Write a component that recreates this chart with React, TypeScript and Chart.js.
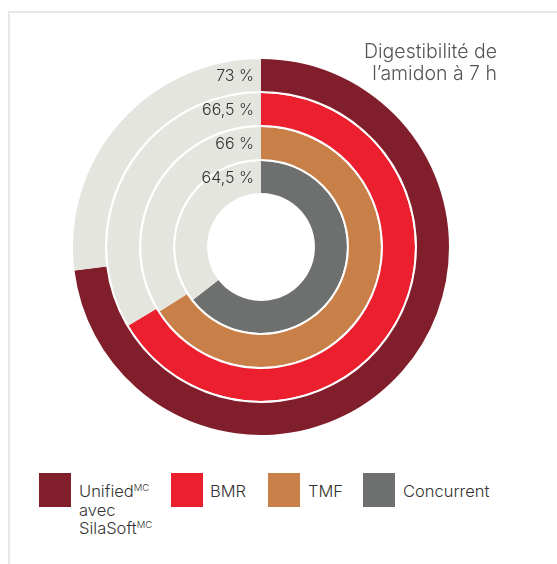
import React, { useEffect, useRef } from "react";
import { Chart, registerables } from "chart.js";

Chart.register(...registerables);

const seriesNames = ["Unified avec SilaSoft", "BMR", "TMF", "Concurrent"];
const seriesValues = [73, 66.5, 66, 64.5];
const valueLabels = ["73 %", "66,5 %", "66 %", "64,5 %"];
const seriesColors = ["#801f2b", "#ec1f2f", "#c88048", "#6d706f"];
const restColor = "#e5e5e0";
const titleLines = ["Digestibilité de", "l’amidon à 7 h"];

const FONT = "Inter, Lato, 'Open Sans', sans-serif";

export default function App() {
  const canvasRef = useRef<HTMLCanvasElement | null>(null);

  useEffect(() => {
    const canvas = canvasRef.current;
    if (!canvas) return;
    const datasets: any[] = [];
    const ringIdx: number[] = [];
    seriesValues.forEach((v, i) => {
      if (i > 0) {
        datasets.push({
          data: [100],
          backgroundColor: ["#ffffff"],
          weight: 0.0625,
          borderWidth: 0,
        });
      }
      ringIdx.push(datasets.length);
      datasets.push({
        label: seriesNames[i],
        data: [v, 100 - v],
        backgroundColor: [seriesColors[i], restColor],
        weight: 1,
        borderWidth: 0,
      });
    });

    const labelPlugin = {
      id: "ringLabels",
      afterDatasetsDraw(chart: any) {
        const ctx = chart.ctx;
        ctx.save();
        ctx.font = `300 16px ${FONT}`;
        ctx.fillStyle = "#333333";
        ctx.textAlign = "right";
        ctx.textBaseline = "middle";
        ringIdx.forEach((di, i) => {
          const el = chart.getDatasetMeta(di).data[0];
          if (!el) return;
          const r = (el.innerRadius + el.outerRadius) / 2;
          ctx.fillText(valueLabels[i], el.x - 7, el.y - r + 1.5);
        });
        ctx.restore();
      },
    };

    const chart = new Chart(canvas, {
      type: "doughnut",
      data: { labels: ["valeur", "reste"], datasets },
      options: {
        animation: false,
        responsive: false,
        maintainAspectRatio: false,
        cutout: "28.7%",
        layout: { padding: 0 },
        elements: { arc: { borderWidth: 0, hoverOffset: 0, offset: 0, hoverBorderWidth: 0 } as any },
        plugins: {
          legend: { display: false },
          tooltip: { enabled: false },
          title: { display: false },
        },
        events: [],
      },
      plugins: [labelPlugin],
    });
    return () => chart.destroy();
  }, []);

  const supStyle: React.CSSProperties = { fontSize: 9.5, verticalAlign: "top", lineHeight: "12px" };
  const legendItems = [
    { color: seriesColors[0], left: 39, textLeft: 79, content: (
      <span>
        Unified<sup style={supStyle}>MC</sup>
        <br />avec<br />SilaSoft<sup style={supStyle}>MC</sup>
      </span>
    ) },
    { color: seriesColors[1], left: 171, textLeft: 210, content: <span>BMR</span> },
    { color: seriesColors[2], left: 268, textLeft: 308, content: <span>TMF</span> },
    { color: seriesColors[3], left: 363, textLeft: 403, content: <span>Concurrent</span> },
  ];

  return (
    <div style={{ position: "fixed", left: 0, top: 0, width: 557, height: 564, overflow: "hidden", background: "#ffffff", fontFamily: FONT, fontWeight: 300 }}>
      <div style={{ position: "absolute", left: 8, top: 11, right: -4, bottom: -4, borderLeft: "2px solid #e8e8e8", borderTop: "2px solid #e8e8e8" }} />
      <canvas ref={canvasRef} width={376} height={376} style={{ position: "absolute", left: 73, top: 59, width: 376, height: 376 }} />
      <div style={{ position: "absolute", left: 200, width: 297, top: 40, textAlign: "right", fontSize: 19.5, lineHeight: "22px", color: "#555555" }}>
        {titleLines.map((t, i) => (<div key={i}>{t}</div>))}
      </div>
      {legendItems.map((it, i) => (
        <React.Fragment key={i}>
          <div style={{ position: "absolute", left: it.left, top: 473, width: 32, height: 34, background: it.color }} />
          <div style={{ position: "absolute", left: it.textLeft, top: 482, fontSize: 16.5, lineHeight: "18.5px", color: "#333333", whiteSpace: "nowrap" }}>
            {it.content}
          </div>
        </React.Fragment>
      ))}
    </div>
  );
}
